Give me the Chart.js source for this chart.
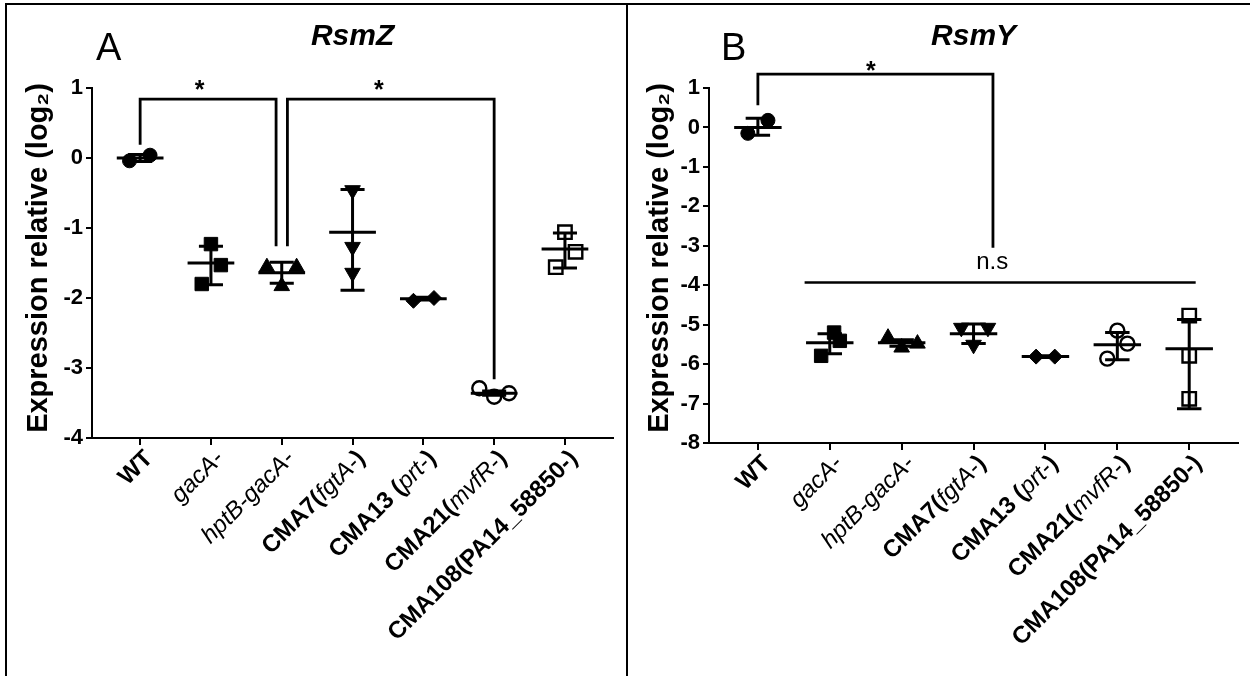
<!DOCTYPE html>
<html>
<head>
<meta charset="utf-8">
<script src="https://cdn.jsdelivr.net/npm/chart.js@4.4.0/dist/chart.umd.min.js"></script>
<style>
  html, body { margin: 0; padding: 0; background: #fff; }
  #wrap { position: relative; width: 1250px; height: 676px; background: #fff; overflow: hidden; }
  #wrap canvas { position: absolute; top: 0; }
  .rule { position: absolute; background: #000; }
</style>
</head>
<body>
<div id="wrap">
  <canvas id="chartA" width="625" height="676" style="left:0"></canvas>
  <canvas id="chartB" width="625" height="676" style="left:625px"></canvas>
  <div class="rule" style="left:5px; top:3px; width:1245px; height:2px"></div>
  <div class="rule" style="left:5px; top:3px; width:2px; height:673px"></div>
  <div class="rule" style="left:626px; top:3px; width:2px; height:673px"></div>
</div>
<script>
// strains on the x axis, and the part of each name set in italics
const categories = ["WT", "gacA-", "hptB-gacA-", "CMA7(fgtA-)", "CMA13 (prt-)", "CMA21(mvfR-)", "CMA108(PA14_58850-)"];
const italicParts = ["", "gacA-", "hptB-gacA-", "fgtA-", "prt-", "mvfR-", ""];
const yTitle = "Expression relative (log\u2082)";

// RsmZ (panel A)
const rsmZTicks = [1, 0, -1, -2, -3, -4];
const rsmZValues = [
  [-0.04, 0.04],
  [-1.23, -1.53, -1.80],
  [-1.56, -1.56, -1.83],
  [-0.46, -1.27, -1.64],
  [-2.04, -2.00],
  [-3.29, -3.41, -3.36],
  [-1.06, -1.34, -1.56]
];
const rsmZJitter = [
  [-0.15, 0.14],
  [0, 0.14, -0.13],
  [-0.21, 0.21, 0],
  [0, 0, 0],
  [-0.14, 0.15],
  [-0.21, 0, 0.21],
  [0, 0.15, -0.13]
];
const rsmZMeans = [0, -1.50, -1.64, -1.06, -2.01, -3.36, -1.30];
const rsmZErrTop = [0.05, -1.26, -1.49, -0.45, -1.99, -3.33, -1.07];
const rsmZErrBottom = [-0.05, -1.81, -1.79, -1.89, -2.03, -3.39, -1.57];

// RsmY (panel B)
const rsmYTicks = [1, 0, -1, -2, -3, -4, -5, -6, -7, -8];
const rsmYValues = [
  [-0.15, 0.18],
  [-5.20, -5.41, -5.79],
  [-5.33, -5.58, -5.48],
  [-5.08, -5.08, -5.51],
  [-5.81, -5.81],
  [-5.15, -5.48, -5.86],
  [-4.77, -5.79, -6.88]
];
const rsmYJitter = [
  [-0.14, 0.14],
  [0.06, 0.14, -0.12],
  [-0.19, 0, 0.22],
  [-0.17, 0.2, 0],
  [-0.13, 0.13],
  [0, 0.14, -0.14],
  [0, 0, 0]
];
const rsmYMeans = [0, -5.46, -5.46, -5.23, -5.81, -5.51, -5.61];
const rsmYErrTop = [0.23, -5.23, -5.38, -4.98, -5.79, -5.20, -4.87];
const rsmYErrBottom = [-0.20, -5.74, -5.55, -5.48, -5.83, -5.89, -7.13];

const FONT = '"Liberation Sans", Arial, Helvetica, sans-serif';

// marker look for each strain
const markers = [
  { style: "circle", radius: 7, filled: true },
  { style: "rect", radius: 9.5, filled: true },
  { style: "triangle", radius: 9, filled: true },
  { style: "triangle", radius: 9, filled: true, rotation: 180 },
  { style: "rectRot", radius: 7.5, filled: true },
  { style: "circle", radius: 7, filled: false },
  { style: "rect", radius: 9.5, filled: false }
];

function buildDatasets(values, jitter) {
  return categories.map((name, i) => {
    const m = markers[i];
    return {
      label: name,
      data: values[i].map((v, j) => ({ x: i + jitter[i][j], y: v })),
      pointStyle: m.style,
      pointRadius: m.radius,
      pointRotation: m.rotation || 0,
      pointBackgroundColor: m.filled ? "#000" : "rgba(0,0,0,0)",
      pointBorderColor: "#000",
      pointBorderWidth: m.filled ? 1 : 2.4,
      showLine: false
    };
  });
}

function centerText(ctx, text, x, y) {
  const m = ctx.measureText(text);
  ctx.fillText(text, x, y + (m.actualBoundingBoxAscent - m.actualBoundingBoxDescent) / 2);
}

function panelPlugin(p) {
  return {
    id: "panel" + p.letter,
    afterDatasetsDraw(chart) {
      const ctx = chart.ctx, xs = chart.scales.x, ys = chart.scales.y;
      ctx.save();
      ctx.strokeStyle = "#000";
      ctx.lineCap = "butt";
      ctx.lineWidth = 3;
      p.means.forEach((mean, i) => {
        const x = xs.getPixelForValue(i);
        const cap = xs.getPixelForValue(i + 0.17) - x;
        const half = xs.getPixelForValue(i + 0.33) - x;
        const hi = ys.getPixelForValue(p.errTop[i]);
        const lo = ys.getPixelForValue(p.errBottom[i]);
        const my = ys.getPixelForValue(mean);
        ctx.beginPath();
        ctx.moveTo(x, hi); ctx.lineTo(x, lo);
        ctx.moveTo(x - cap, hi); ctx.lineTo(x + cap, hi);
        ctx.moveTo(x - cap, lo); ctx.lineTo(x + cap, lo);
        ctx.moveTo(x - half, my); ctx.lineTo(x + half, my);
        ctx.stroke();
      });

      // significance brackets
      ctx.lineWidth = 2.8;
      ctx.lineJoin = "miter";
      p.brackets.forEach(b => {
        const x1 = xs.getPixelForValue(b.x1), x2 = xs.getPixelForValue(b.x2);
        ctx.beginPath();
        ctx.moveTo(x1, ys.getPixelForValue(b.left));
        ctx.lineTo(x1, ys.getPixelForValue(b.top));
        ctx.lineTo(x2, ys.getPixelForValue(b.top));
        ctx.lineTo(x2, ys.getPixelForValue(b.right));
        ctx.stroke();
        ctx.fillStyle = "#000";
        ctx.font = "bold 25px " + FONT;
        ctx.textAlign = "center";
        ctx.textBaseline = "alphabetic";
        centerText(ctx, "*", xs.getPixelForValue(b.starX), ys.getPixelForValue(b.starY));
      });
      if (p.ns) {
        ctx.lineWidth = 2.4;
        ctx.beginPath();
        ctx.moveTo(xs.getPixelForValue(p.ns.x1), ys.getPixelForValue(p.ns.y));
        ctx.lineTo(xs.getPixelForValue(p.ns.x2), ys.getPixelForValue(p.ns.y));
        ctx.stroke();
        ctx.font = "24px " + FONT;
        ctx.textAlign = "center";
        centerText(ctx, "n.s", xs.getPixelForValue(p.ns.textX), ys.getPixelForValue(p.ns.textY));
      }
      ctx.restore();
    },
    afterDraw(chart) {
      const ctx = chart.ctx, xs = chart.scales.x, area = chart.chartArea;
      ctx.save();
      ctx.fillStyle = "#000";
      // titles
      ctx.textAlign = "center";
      ctx.textBaseline = "alphabetic";
      ctx.font = "italic bold 30px " + FONT;
      centerText(ctx, p.title, (area.left + area.right) / 2, 35);
      ctx.textAlign = "left";
      ctx.font = "38px " + FONT;
      centerText(ctx, p.letter, 96, 46);

      // y axis title, free of the chart-area height limit
      ctx.save();
      ctx.translate(p.yTitleX, 258);
      ctx.rotate(-Math.PI / 2);
      ctx.textAlign = "center";
      ctx.textBaseline = "middle";
      ctx.font = "bold 29px " + FONT;
      ctx.fillText(yTitle, 0, 0);
      ctx.restore();

      // rotated strain names with italic parts
      const size = 24;
      const boldFont = "bold " + size + "px " + FONT;
      const italFont = "italic " + size + "px " + FONT;
      categories.forEach((name, i) => {
        const it = italicParts[i];
        let parts = [[name, boldFont]];
        if (it) {
          const k = name.indexOf(it);
          parts = [[name.slice(0, k), boldFont], [it, italFont], [name.slice(k + it.length), boldFont]]
            .filter(s => s[0].length);
        }
        let total = 0;
        parts.forEach(s => { ctx.font = s[1]; total += ctx.measureText(s[0]).width; });
        const px = xs.getPixelForValue(i);
        ctx.save();
        ctx.translate(px + 9, xs.top + 17);
        ctx.rotate(-Math.PI / 4);
        ctx.textAlign = "left";
        ctx.textBaseline = "middle";
        let cx = -total;
        parts.forEach(s => {
          ctx.font = s[1];
          ctx.fillText(s[0], cx, 0);
          cx += ctx.measureText(s[0]).width;
        });
        ctx.restore();
      });
      ctx.restore();
    }
  };
}

function makeChart(id, p) {
  return new Chart(document.getElementById(id), {
    type: "scatter",
    data: { datasets: buildDatasets(p.values, p.jitter) },
    options: {
      responsive: false,
      animation: false,
      events: [],
      layout: { padding: { left: p.padLeft, top: 88, right: p.padRight, bottom: 0 } },
      plugins: { legend: { display: false }, tooltip: { enabled: false }, title: { display: false } },
      scales: {
        x: {
          type: "linear",
          min: -0.68,
          max: categories.length - 1 + 0.68,
          afterBuildTicks: s => { s.ticks = categories.map((c, i) => ({ value: i })); },
          afterFit: s => { s.height = p.xHeight; },
          ticks: { display: false },
          grid: { drawOnChartArea: false, drawTicks: true, tickLength: 7, color: "#000", lineWidth: 2 },
          border: { color: "#000", width: 2 }
        },
        y: {
          type: "linear",
          min: p.ticks[p.ticks.length - 1],
          max: p.ticks[0],
          afterBuildTicks: s => { s.ticks = p.ticks.map(v => ({ value: v })); },
          afterFit: s => { s.width = p.yWidth; },
          ticks: { color: "#000", padding: 3, font: { family: FONT, size: 22, weight: "bold" } },
          grid: { drawOnChartArea: false, drawTicks: true, tickLength: 6, color: "#000", lineWidth: 2 },
          border: { color: "#000", width: 2 }
        }
      }
    },
    plugins: [panelPlugin(p)]
  });
}

makeChart("chartA", {
  letter: "A", title: "RsmZ",
  values: rsmZValues, jitter: rsmZJitter, ticks: rsmZTicks,
  means: rsmZMeans, errTop: rsmZErrTop, errBottom: rsmZErrBottom,
  padLeft: 19, padRight: 7, yWidth: 73, xHeight: 238, yTitleX: 39,
  brackets: [
    { x1: 0, x2: 1.92, top: 0.84, left: 0.19, right: -1.26, starX: 0.84, starY: 1.04 },
    { x1: 2.08, x2: 5, top: 0.84, left: -1.26, right: -3.16, starX: 3.37, starY: 1.04 }
  ]
});

makeChart("chartB", {
  letter: "B", title: "RsmY",
  values: rsmYValues, jitter: rsmYJitter, ticks: rsmYTicks,
  means: rsmYMeans, errTop: rsmYErrTop, errBottom: rsmYErrBottom,
  padLeft: 15, padRight: 5, yWidth: 69, xHeight: 233, yTitleX: 35,
  brackets: [
    { x1: 0, x2: 3.27, top: 1.35, left: 0.56, right: -3.05, starX: 1.57, starY: 1.57 }
  ],
  ns: { x1: 0.65, x2: 6.09, y: -3.93, textX: 3.26, textY: -3.43 }
});
</script>
</body>
</html>
